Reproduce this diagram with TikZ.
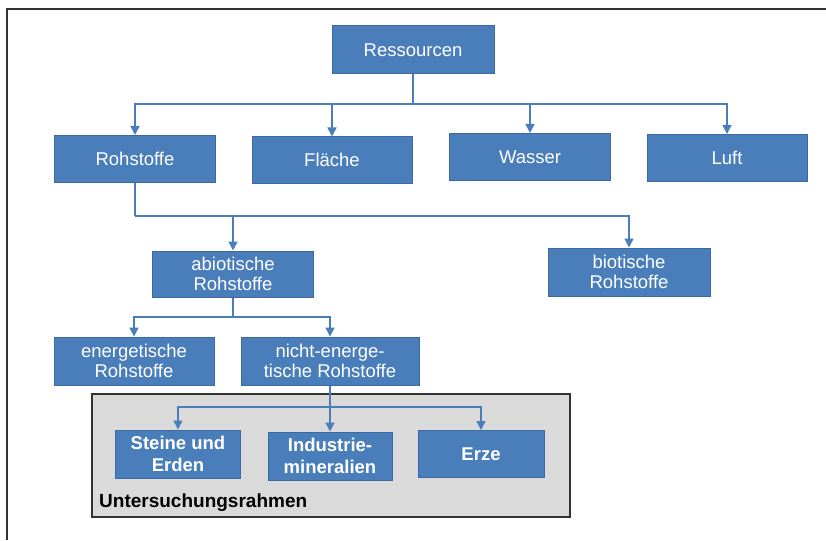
\documentclass[tikz,border=0pt]{standalone}
\usepackage{fontspec}
\setmainfont{Liberation Sans}
\usetikzlibrary{arrows.meta}

\definecolor{boxfill}{HTML}{4A7EBB}
\definecolor{boxedge}{HTML}{3B6AA3}
\definecolor{linkblue}{HTML}{4A7EBB}
\definecolor{framegrey}{HTML}{DADADA}
\definecolor{frameedge}{HTML}{333333}

\tikzset{
  blockbox/.style={draw=boxedge, line width=1pt, fill=boxfill, text=white,
    inner sep=0pt, align=center, font=\fontsize{18.5}{20.5}\selectfont},
  boldbox/.style={blockbox, font=\bfseries\fontsize{18.5}{22}\selectfont},
  link/.style={draw=linkblue, line width=1.5pt},
  arrowlink/.style={link, -{Triangle[width=9pt,length=9pt]}},
}

\begin{document}
\begin{tikzpicture}[x=1pt, y=-1pt]
\useasboundingbox (0,0) rectangle (826,540);

% outer frame (top and left edges)
\draw[frameedge, line width=2pt] (7,540) -- (7,9) -- (826,9);

% grey study-scope area
\draw[frameedge, line width=1.5pt, fill=framegrey] (92,394) rectangle (570,517);
\node[anchor=west, font=\bfseries\fontsize{19}{20}\selectfont, inner sep=0pt] (scope) at (99,503) {Untersuchungsrahmen};

% boxes
\node[blockbox, minimum width=162pt, minimum height=48pt] (res) at (413,50) {Ressourcen};
\node[blockbox, minimum width=161pt, minimum height=47pt] (roh) at (135,159) {Rohstoffe};
\node[blockbox, minimum width=160pt, minimum height=46pt] (fla) at (332,160) {Fläche};
\node[blockbox, minimum width=161pt, minimum height=47pt] (was) at (530,157) {Wasser};
\node[blockbox, minimum width=160pt, minimum height=47pt] (luf) at (727,158) {Luft};

\node[blockbox, minimum width=161pt, minimum height=46pt] (abio) at (233,274) {abiotische\\Rohstoffe};
\node[blockbox, minimum width=162pt, minimum height=48pt] (bio) at (629,272) {biotische\\Rohstoffe};

\node[blockbox, minimum width=160pt, minimum height=48pt] (ene) at (134,361) {energetische\\Rohstoffe};
\node[blockbox, minimum width=178pt, minimum height=48pt] (nen) at (330,361) {nicht-energe-\\tische Rohstoffe};

\node[boldbox, minimum width=125pt, minimum height=48pt] (ste) at (178,454) {Steine und\\Erden};
\node[boldbox, minimum width=124pt, minimum height=48pt] (ind) at (330,456) {Industrie-\\mineralien};
\node[boldbox, minimum width=126pt, minimum height=47pt] (erz) at (481,454) {Erze};

% junction points
\coordinate (j1) at (413,104);
\coordinate (j2) at (135,216);
\coordinate (j3) at (233,317);
\coordinate (j4) at (330,407);

% connectors
\draw[link] (res.south) -- (j1);
\draw[arrowlink] (j1) -| (roh.north);
\draw[arrowlink] (j1) -| (fla.north);
\draw[arrowlink] (j1) -| (was.north);
\draw[arrowlink] (j1) -| (luf.north);

\draw[link] (roh.south) -- (j2);
\draw[arrowlink] (j2) -| (abio.north);
\draw[arrowlink] (j2) -| (bio.north);

\draw[link] (abio.south) -- (j3);
\draw[arrowlink] (j3) -| (ene.north);
\draw[arrowlink] (j3) -| (nen.north);

\draw[arrowlink] (nen.south) -- (ind.north);
\draw[arrowlink] (j4) -| (ste.north);
\draw[arrowlink] (j4) -| (erz.north);
\end{tikzpicture}
\end{document}
